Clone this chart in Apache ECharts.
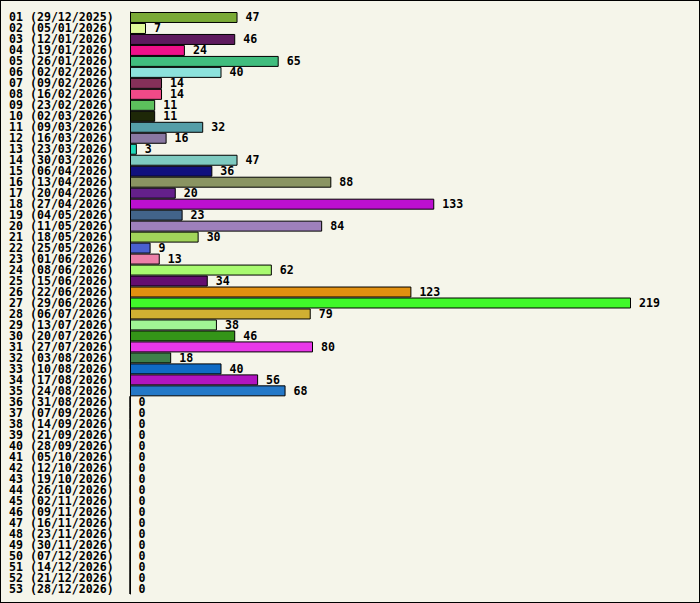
<!DOCTYPE html>
<html><head><meta charset="utf-8">
<script src="https://cdn.jsdelivr.net/npm/echarts@6/dist/echarts.min.js"></script>
<style>html,body{margin:0;padding:0;background:#f5f5ea;}#c{width:700px;height:603px;box-sizing:border-box;border:1px solid #000;}</style>
</head><body><div id="c"></div>
<script>
var dates = ['29/12/2025','05/01/2026','12/01/2026','19/01/2026','26/01/2026','02/02/2026','09/02/2026','16/02/2026','23/02/2026','02/03/2026',
  '09/03/2026','16/03/2026','23/03/2026','30/03/2026','06/04/2026','13/04/2026','20/04/2026','27/04/2026','04/05/2026','11/05/2026',
  '18/05/2026','25/05/2026','01/06/2026','08/06/2026','15/06/2026','22/06/2026','29/06/2026','06/07/2026','13/07/2026','20/07/2026',
  '27/07/2026','03/08/2026','10/08/2026','17/08/2026','24/08/2026','31/08/2026','07/09/2026','14/09/2026','21/09/2026','28/09/2026',
  '05/10/2026','12/10/2026','19/10/2026','26/10/2026','02/11/2026','09/11/2026','16/11/2026','23/11/2026','30/11/2026','07/12/2026',
  '14/12/2026','21/12/2026','28/12/2026'];
var values = [47,7,46,24,65,40,14,14,11,11,32,16,3,47,36,88,20,133,23,84,30,9,13,62,34,123,219,79,38,46,80,18,40,56,68,
  0,0,0,0,0,0,0,0,0,0,0,0,0,0,0,0,0,0];
var colors = ['#7aaa36','#e0fb9a','#5e1a5e','#f0108a','#40bd7e','#8ce2dc','#853059','#f04a88','#5cc05c','#1e2808',
  '#559ea8','#8a78a2','#20d8b8','#7ecac0','#10107e','#8a9462','#64208a','#bc10d0','#42648a','#9e80bc',
  '#a2d45a','#4a60d0','#ec80a8','#a8fa70','#640e70','#e29010','#40f82a','#d0b032','#a0f494','#349418',
  '#e838e8','#3e804a','#106ac4','#b014c0','#2478c8'];
var labels = dates.map(function(d, i) { return (i < 9 ? '0' : '') + (i + 1) + ' (' + d + ')'; });
var font = 'DejaVu Sans Mono';
var chart = echarts.init(document.getElementById('c'), null, { renderer: 'svg' });
chart.setOption({
  backgroundColor: '#f5f5ea',
  animation: false,
  grid: { left: 129, right: 68, top: 11, bottom: 8 },
  xAxis: { type: 'value', min: 0, max: 219, show: false },
  yAxis: {
    type: 'category', inverse: true, data: labels,
    axisLine: { show: true, lineStyle: { color: '#000', width: 1 } },
    axisTick: { show: false },
    axisLabel: { align: 'left', margin: 121, color: '#000', fontFamily: font, fontWeight: 'bold', fontSize: 11.6, lineHeight: 11, interval: 0 }
  },
  series: [{
    type: 'bar', barCategoryGap: 0,
    data: values.map(function(v, i) { return { value: v, itemStyle: { color: colors[i] || '#fff' } }; }),
    itemStyle: { borderColor: '#000', borderWidth: 1 },
    label: { show: true, position: 'right', distance: 8, color: '#000', fontFamily: font, fontWeight: 'bold', fontSize: 11.6, lineHeight: 11 }
  }]
});
</script></body></html>
